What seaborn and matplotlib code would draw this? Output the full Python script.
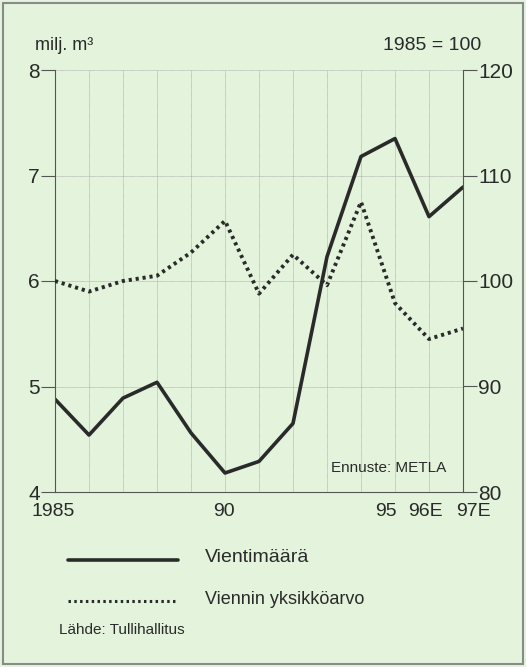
import matplotlib

matplotlib.use("Agg")

import matplotlib.pyplot as plt
import matplotlib.transforms as mtransforms
import pandas as pd
import seaborn as sns
from matplotlib.patches import Rectangle

YEARS = list(range(1985, 1998))
VOLUME = [4.88, 4.54, 4.89, 5.04, 4.56, 4.18, 4.29, 4.65, 6.23, 7.18, 7.35, 6.61, 6.89]
UNIT_VALUE = [100.0, 99.0, 100.0, 100.5, 102.7, 105.7, 98.8, 102.5, 99.6, 107.5, 97.9, 94.5, 95.5]
X_TICKS = [1985, 1990, 1995, 1996, 1997]
X_LABELS = ["1985", "90", "95", "96E", "97E"]

BG = "#e3f3dc"
INK = "#2a2a2a"

data = pd.DataFrame({"year": YEARS, "volume": VOLUME, "unit_value": UNIT_VALUE})

sns.set_style("white")
plt.rcParams["font.family"] = ["Liberation Sans", "DejaVu Sans"]

fig = plt.figure(figsize=(5.26, 6.67), dpi=100, facecolor=BG)
fig.patches.append(Rectangle((3 / 526, 3 / 667), 520 / 526, 661 / 667, transform=fig.transFigure,
                             fill=False, edgecolor="#8a8a8a", linewidth=1.5))

ax = fig.add_axes([55 / 526, 1 - 492 / 667, 408 / 526, 422 / 667])
ax.set_facecolor(BG)
ax2 = ax.twinx()

sns.lineplot(data=data, x="year", y="volume", ax=ax, color=INK, linewidth=2.6)
sns.lineplot(data=data, x="year", y="unit_value", ax=ax2, color=INK, linewidth=2.8,
             linestyle=(0, (0.8, 1.0)))

ax.set_xlim(1985, 1997)
ax.set_ylim(4, 8)
ax2.set_ylim(80, 120)
ax.set_yticks([4, 5, 6, 7, 8])
ax2.set_yticks([80, 90, 100, 110, 120])
ax.set_xticks(YEARS, minor=True)
ax.set_xticks(X_TICKS)
ax.set_xticklabels(X_LABELS)

ax.grid(True, which="both", axis="x", color="#a8a8a8", linewidth=0.5, linestyle=(0, (1, 0.6)))
ax.grid(True, which="major", axis="y", color="#a8a8a8", linewidth=0.5, linestyle=(0, (1, 0.6)))
ax.set_axisbelow(True)

for a in (ax, ax2):
    a.set_xlabel("")
    a.set_ylabel("")
    for side in a.spines.values():
        side.set_visible(False)
ax.spines["left"].set_visible(True)
ax.spines["left"].set_color("#555555")
ax.spines["bottom"].set_visible(True)
ax.spines["bottom"].set_color("#555555")
ax2.spines["right"].set_visible(True)
ax2.spines["right"].set_color("#555555")

ax.tick_params(axis="y", which="major", length=10, width=0.8, color="#555555",
               labelsize=15, labelcolor=INK, pad=1)
ax2.tick_params(axis="y", which="major", length=10, width=0.8, color="#555555",
                labelsize=15, labelcolor=INK, pad=1)
ax.tick_params(axis="x", which="both", length=0, labelsize=14, labelcolor=INK, pad=8)

# year labels are not centred on their ticks in the original, nudge them (pixels)
shifts = {"1985": -2, "90": -1, "95": -9, "96E": -4, "97E": 10}
for label in ax.get_xticklabels():
    dx = shifts.get(label.get_text(), 0)
    if dx:
        label.set_transform(label.get_transform() + mtransforms.ScaledTranslation(dx / 100, 0, fig.dpi_scale_trans))

fig.text(35 / 526, 1 - 45 / 667, "milj. m³", fontsize=13, color=INK, va="center", ha="left")
fig.text(481 / 526, 1 - 45 / 667, "1985 = 100", fontsize=14, color=INK, va="center", ha="right")
fig.text(331 / 526, 1 - 468 / 667, "Ennuste: METLA", fontsize=11, color=INK, va="center", ha="left")

fig.add_artist(plt.Line2D([68 / 526, 178 / 526], [1 - 560 / 667, 1 - 560 / 667],
                          color=INK, linewidth=2.6))
fig.text(205 / 526, 1 - 558 / 667, "Vientimäärä", fontsize=14, color=INK, va="center", ha="left")
fig.add_artist(plt.Line2D([68 / 526, 176 / 526], [1 - 601 / 667, 1 - 601 / 667],
                          color=INK, linewidth=2.2, linestyle=(0, (0.8, 1.1))))
fig.text(205 / 526, 1 - 600 / 667, "Viennin yksikköarvo", fontsize=13, color=INK, va="center", ha="left")
fig.text(59 / 526, 1 - 630 / 667, "Lähde: Tullihallitus", fontsize=11, color=INK, va="center", ha="left")

fig.savefig("out.png", dpi=100, facecolor=BG)
